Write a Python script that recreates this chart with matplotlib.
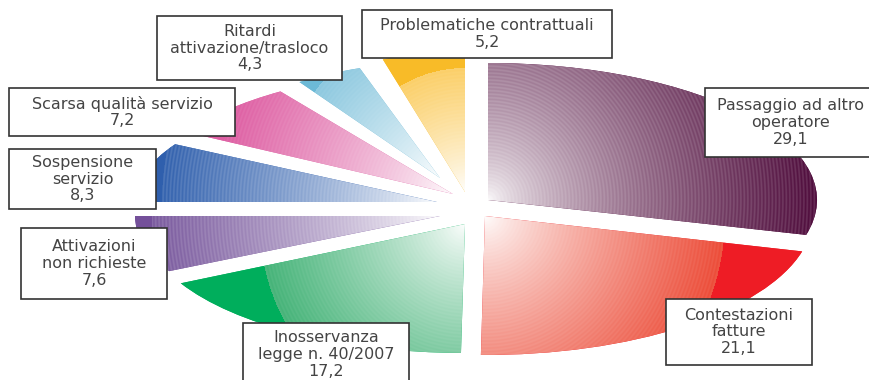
import matplotlib
import numpy as np

matplotlib.use('Agg')
import matplotlib.pyplot as plt
from matplotlib.colors import to_rgb
from matplotlib.patches import Rectangle
from matplotlib.transforms import Affine2D

# data, clockwise from 12 o'clock
labels = ['Passaggio ad altro\noperatore', 'Contestazioni\nfatture', 'Inosservanza\nlegge n. 40/2007',
          'Attivazioni\nnon richieste', 'Sospensione\nservizio', 'Scarsa qualità servizio',
          'Ritardi\nattivazione/trasloco', 'Problematiche contrattuali']
values = [29.1, 21.1, 17.2, 7.6, 8.3, 7.2, 4.3, 5.2]

# layout in pixels: apex of each slice, then its x and y radius
apex_x = [488, 485, 465, 440, 437, 453, 440, 465]
apex_y = [200, 216, 224, 216, 202, 194, 178, 192]
rad_x = [329, 328, 320, 305, 302, 307, 250, 256]
rad_y = [137, 139, 129, 120, 116, 124, 116, 140]

# the gradient is circular: its end colour, its radius in pixels, the solid colour outside it
grad_end = ['#4f0c3c', '#ec4c38', '#45b378', '#7a5a9e', '#3362ae', '#de5fa3', '#8cc8df', '#fbcf68']
grad_r = [329, 240, 205, 288, 275, 235, 152, 124]
grad_pow = [0.65, 0.8, 0.8, 0.8, 0.8, 0.8, 0.8, 0.8]
solid = ['#4f0c3c', '#ee1c25', '#00ae5c', '#74509a', '#2f5fad', '#de5fa3', '#6cb9d6', '#f8bb28']
ring = [0.06, 0.03, 0.025, 0.06, 0.06, 0.03, 0.02, 0.02]

# label boxes: left, top, right, bottom
boxes = [(705, 88, 877, 157), (666, 299, 812, 365), (243, 323, 409, 386), (21, 228, 167, 299),
         (9, 149, 156, 209), (9, 88, 235, 136), (157, 16, 342, 80), (362, 10, 612, 58)]

W, H = 870, 380
fig = plt.figure(figsize=(W / 100, H / 100), dpi=100)
ax = fig.add_axes([0, 0, 1, 1])

wedges, _ = ax.pie(values, startangle=90, counterclock=False)

px, py = np.meshgrid(np.arange(W) + 0.5, np.arange(H) + 0.5)
for i, w in enumerate(wedges):
    w.set_transform(Affine2D().scale(rad_x[i], -rad_y[i]).translate(apex_x[i], apex_y[i]) + ax.transData)
    w.set_facecolor(solid[i])
    w.set_edgecolor('none')

    d = np.hypot(px - apex_x[i], py - apex_y[i])
    mix = np.clip(d / grad_r[i], 0, 1) ** grad_pow[i]
    mix = mix * (1 - ring[i] * (1 + np.sin(2 * np.pi * d / 3.5)))
    mix = np.clip(mix, 0, 1)[..., None]
    img = (1 - mix) + mix * np.array(to_rgb(grad_end[i]))
    img[d >= grad_r[i]] = to_rgb(solid[i])
    im = ax.imshow(img, extent=(0, W, H, 0), aspect='auto', zorder=2, interpolation='bilinear')
    im.set_clip_path(w)

for i, b in enumerate(boxes):
    ax.add_patch(Rectangle((b[0], b[1]), b[2] - b[0], b[3] - b[1], facecolor='white',
                           edgecolor='#333333', lw=1.2, zorder=3))
    text = labels[i] + '\n' + ('%.1f' % values[i]).replace('.', ',')
    ax.text((b[0] + b[2]) / 2, (b[1] + b[3]) / 2, text, ha='center', va='center', fontsize=11.5,
            color='#444444', linespacing=1.16, zorder=4)

ax.set_aspect('auto')
ax.set_xlim(0, W)
ax.set_ylim(H, 0)
ax.axis('off')

plt.savefig('out.png', dpi=100)
